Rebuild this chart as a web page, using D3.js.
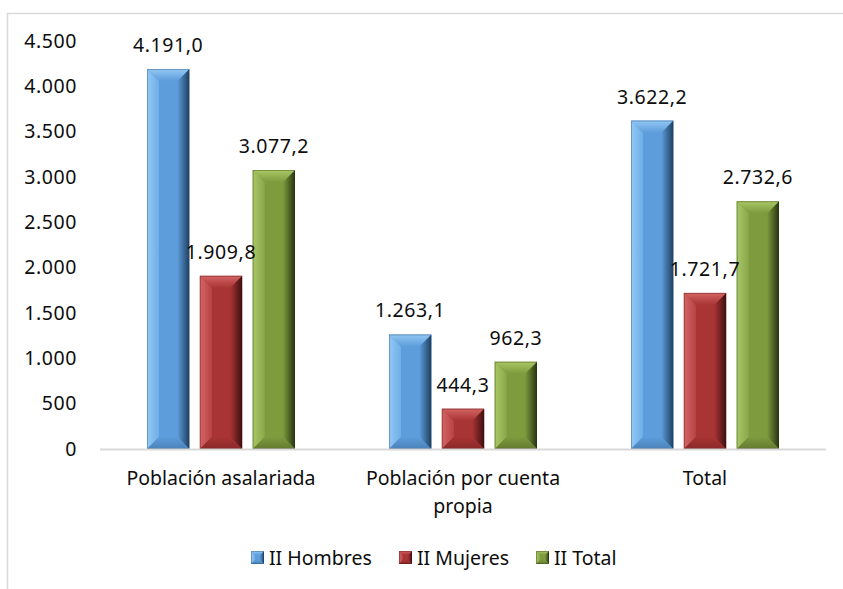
<!DOCTYPE html>
<html><head><meta charset="utf-8">
<script src="https://cdn.jsdelivr.net/npm/d3@7"></script>
<style>body{margin:0;background:#fff}svg{display:block}text{font-family:"Noto Sans",sans-serif;fill:#0d0d0d}</style>
</head><body><svg id="c" width="843" height="589"></svg>
<script>
const categories = ["Población asalariada", "Población por cuenta propia", "Total"];
const seriesNames = ["II Hombres", "II Mujeres", "II Total"];
const hombres = [4191.0, 1263.1, 3622.2];
const mujeres = [1909.8, 444.3, 1721.7];
const total = [3077.2, 962.3, 2732.6];
const yTicks = [0, 500, 1000, 1500, 2000, 2500, 3000, 3500, 4000, 4500];
const seriesValues = [hombres, mujeres, total];

const palettes = [
  {face:"#5d9ddb", top:"#93c8f4", left:"#6eaee8", right:"#2c5a85", bottom:"#4b82b8", edge:"#1e3f60"},
  {face:"#a93434", top:"#d46464", left:"#b84444", right:"#5a1717", bottom:"#8a2929", edge:"#3e0f0f"},
  {face:"#7e9b3e", top:"#a9c765", left:"#8aa84a", right:"#3b4b18", bottom:"#63792f", edge:"#283410"}
];

const loc = d3.formatLocale({decimal: ",", thousands: ".", grouping: [3], currency: ["", ""]});
const fmtVal = loc.format(",.1f");
const fmtTick = loc.format(",.0f");
const FS = 19.5;

const svg = d3.select("#c");
const defs = svg.append("defs");
palettes.forEach((p, i) => {
  const gr = defs.append("linearGradient").attr("id", "gr" + i).attr("x1", 0).attr("x2", 1).attr("y1", 0).attr("y2", 0);
  gr.append("stop").attr("offset", 0).attr("stop-color", p.face);
  gr.append("stop").attr("offset", 1).attr("stop-color", p.edge);
  const gl = defs.append("linearGradient").attr("id", "gl" + i).attr("x1", 0).attr("x2", 1).attr("y1", 0).attr("y2", 0);
  gl.append("stop").attr("offset", 0).attr("stop-color", p.top);
  gl.append("stop").attr("offset", 1).attr("stop-color", p.left);
  const gt = defs.append("linearGradient").attr("id", "gt" + i).attr("x1", 0).attr("x2", 0).attr("y1", 0).attr("y2", 1);
  gt.append("stop").attr("offset", 0).attr("stop-color", p.top);
  gt.append("stop").attr("offset", 1).attr("stop-color", p.face);
  const gb = defs.append("linearGradient").attr("id", "gb" + i).attr("x1", 0).attr("x2", 0).attr("y1", 0).attr("y2", 1);
  gb.append("stop").attr("offset", 0).attr("stop-color", p.face);
  gb.append("stop").attr("offset", 1).attr("stop-color", p.bottom);
});

// chart border
svg.append("path").attr("d", "M7.5,600 V13.5 H850").attr("fill", "none").attr("stroke", "#d9d9d9").attr("stroke-width", 1.5);

const x0 = d3.scaleBand().domain(categories).range([100, 826]);
const x1 = d3.scaleBand().domain(seriesNames).range([0, 148]).paddingInner(0.2);
const y = d3.scaleLinear().domain([0, 4500]).range([449, 41]);

// y tick labels
svg.append("g").selectAll("text").data(yTicks).join("text")
  .attr("x", 77).attr("y", d => y(d)).attr("dy", "0.35em")
  .attr("text-anchor", "end").attr("font-size", FS).attr("letter-spacing", 0.6).text(d => fmtTick(d));

function bevelBar(g, x, yTop, w, h, i, b) {
  const bb = Math.min(b, h / 2, w / 2);
  const x2 = x + w, y2 = yTop + h;
  g.append("rect").attr("x", x).attr("y", yTop).attr("width", w).attr("height", h).attr("fill", palettes[i].face);
  const poly = (pts, fill) => g.append("polygon").attr("points", pts.map(p => p.join(",")).join(" ")).attr("fill", fill);
  poly([[x, yTop], [x + bb, yTop + bb], [x + bb, y2 - bb], [x, y2]], "url(#gl" + i + ")");
  poly([[x2, yTop], [x2 - bb, yTop + bb], [x2 - bb, y2 - bb], [x2, y2]], "url(#gr" + i + ")");
  poly([[x, yTop], [x2, yTop], [x2 - bb, yTop + bb], [x + bb, yTop + bb]], "url(#gt" + i + ")");
  poly([[x, y2], [x2, y2], [x2 - bb, y2 - bb], [x + bb, y2 - bb]], "url(#gb" + i + ")");
  g.append("rect").attr("x", x + 0.5).attr("y", yTop + 0.5).attr("width", w - 1).attr("height", Math.max(0, h - 1))
    .attr("fill", "none").attr("stroke", palettes[i].edge).attr("stroke-opacity", 0.35).attr("stroke-width", 1);
}

const bars = svg.append("g");
const offset = x0.bandwidth() / 2 - 74;
categories.forEach((c, ci) => {
  seriesNames.forEach((s, si) => {
    const v = seriesValues[si][ci];
    const bx = x0(c) + offset + x1(s);
    bevelBar(bars, bx, y(v), x1.bandwidth(), y(0) - y(v), si, 12);
    svg.append("text").attr("x", bx + x1.bandwidth() / 2).attr("y", y(v) - 17)
      .attr("text-anchor", "middle").attr("font-size", FS).attr("letter-spacing", 0.6).text(fmtVal(v));
  });
});

// baseline
svg.append("line").attr("x1", 100).attr("x2", 826).attr("y1", 449.5).attr("y2", 449.5)
  .attr("stroke", "#d9d9d9").attr("stroke-width", 2);

// category labels (wrap second)
const catLines = {"Población asalariada": ["Población asalariada"], "Población por cuenta propia": ["Población por cuenta", "propia"], "Total": ["Total"]};
categories.forEach(c => {
  catLines[c].forEach((ln, li) => {
    svg.append("text").attr("x", x0(c) + x0.bandwidth() / 2).attr("y", 485 + li * 28)
      .attr("text-anchor", "middle").attr("font-size", FS).text(ln);
  });
});

// legend
const legX = [251, 399, 536];
seriesNames.forEach((s, i) => {
  const lg = svg.append("g");
  bevelBar(lg, legX[i], 551, 13, 13, i, 4);
  svg.append("text").attr("x", legX[i] + 18).attr("y", 565).attr("font-size", FS).text(s);
});
</script></body></html>
